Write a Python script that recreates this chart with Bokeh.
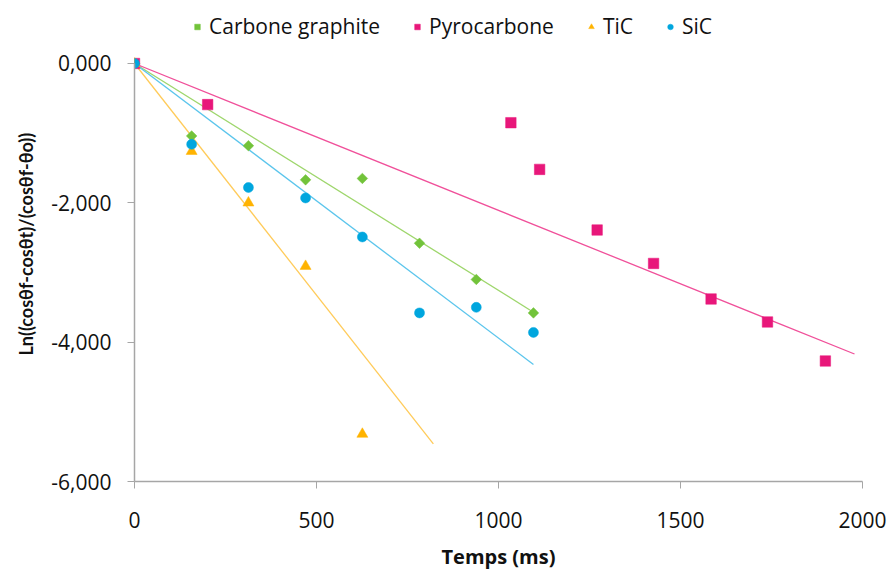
from bokeh.plotting import figure
from bokeh.models import (ColumnDataSource, Legend, LegendItem, Range1d,
                          CustomJSTickFormatter, FixedTicker, Title)
from bokeh.embed import file_html
from bokeh.resources import INLINE

# ---- data ----
series_names = ["Carbone graphite", "Pyrocarbone", "TiC", "SiC"]

graphite_t = [0, 157, 313, 470, 626, 783, 939, 1096]
graphite_y = [0, -1.04, -1.18, -1.67, -1.65, -2.58, -3.10, -3.58]

pyro_t = [0, 201, 1034, 1113, 1271, 1426, 1584, 1739, 1898]
pyro_y = [0, -0.59, -0.85, -1.52, -2.39, -2.87, -3.38, -3.71, -4.27]

tic_t = [0, 157, 313, 470, 626]
tic_y = [0, -1.26, -2.00, -2.91, -5.32]

sic_t = [0, 157, 313, 470, 626, 783, 939, 1096]
sic_y = [0, -1.16, -1.78, -1.93, -2.49, -3.58, -3.50, -3.86]

# linear trend lines through origin: end points (t, y)
trend_end_t = [1096, 1978, 821, 1096]
trend_end_y = [-3.57, -4.17, -5.46, -4.32]

x_ticks = [0, 500, 1000, 1500, 2000]
y_ticks = [-6, -4, -2, 0]

marker_colors = ["#72C33A", "#E8177A", "#FFB300", "#00A6DE"]
line_colors = ["#9ED66C", "#F0509A", "#FFCB5A", "#5BC5EC"]
markers = ["square", "square", "triangle", "circle"]
angles = [0.785398, 0, 0, 0]
sizes = [7.5, 10.5, 11, 10]

FONT = "Open Sans"

# frame extends above y=0 so the legend can sit inside it; the axis stops at 0
p = figure(width=890, height=572, output_backend="svg", toolbar_location=None,
           x_range=Range1d(0, 2000), y_range=Range1d(-6, 0.9043),
           min_border_left=134, min_border_right=28,
           min_border_top=0, min_border_bottom=91)
p.outline_line_color = None
p.grid.visible = False
p.background_fill_color = "white"

data = [(graphite_t, graphite_y), (pyro_t, pyro_y), (tic_t, tic_y), (sic_t, sic_y)]
items = []
for i, (t, y) in enumerate(data):
    p.line([0, trend_end_t[i]], [0, trend_end_y[i]], line_color=line_colors[i],
           line_width=1.3)
for i, (t, y) in enumerate(data):
    src = ColumnDataSource(dict(x=t, y=y))
    r = p.scatter("x", "y", source=src, marker=markers[i], size=sizes[i],
                  angle=angles[i], fill_color=marker_colors[i],
                  line_color=marker_colors[i], line_width=0.5)
    items.append(LegendItem(label=series_names[i], renderers=[r]))

legend = Legend(items=items, orientation="horizontal", location=(56, 441),
                border_line_color=None, background_fill_alpha=0,
                padding=0, margin=0, spacing=30,
                glyph_width=14, glyph_height=19, label_standoff=5,
                label_text_font=FONT, label_text_font_size="21px",
                label_text_color="#111111")
p.add_layout(legend, "center")

for ax in (p.xaxis[0], p.yaxis[0]):
    ax.axis_line_color = "#A6A6A6"
    ax.axis_line_width = 1.5
    ax.major_tick_line_color = "#A6A6A6"
    ax.major_tick_line_width = 1
    ax.major_tick_in = 0
    ax.major_tick_out = 7
    ax.minor_tick_line_color = None
    ax.major_label_text_font = FONT
    ax.major_label_text_font_size = "21px"
    ax.major_label_text_color = "#111111"
    ax.axis_label_text_font = FONT
    ax.axis_label_text_font_style = "bold"
    ax.axis_label_text_font_size = "20px"
    ax.axis_label_text_color = "#111111"

p.yaxis.bounds = (-6, 0)
p.xaxis.ticker = FixedTicker(ticks=x_ticks)
p.yaxis.ticker = FixedTicker(ticks=y_ticks)
p.yaxis.formatter = CustomJSTickFormatter(code="return tick.toFixed(3).replace('.', ',');")
p.xaxis.major_label_standoff = 23
p.yaxis.major_label_standoff = 16
p.xaxis.axis_label = "Temps (ms)"
p.xaxis.axis_label_standoff = 12

ylab = Title(text="Ln((cosθf-cosθt)/(cosθf-θo))", align="left", offset=126,
             text_font="Lato", text_font_style="bold", text_font_size="18px",
             text_color="#111111", standoff=23)
p.add_layout(ylab, "left")

open("out.html", "w").write(file_html(p, INLINE))
